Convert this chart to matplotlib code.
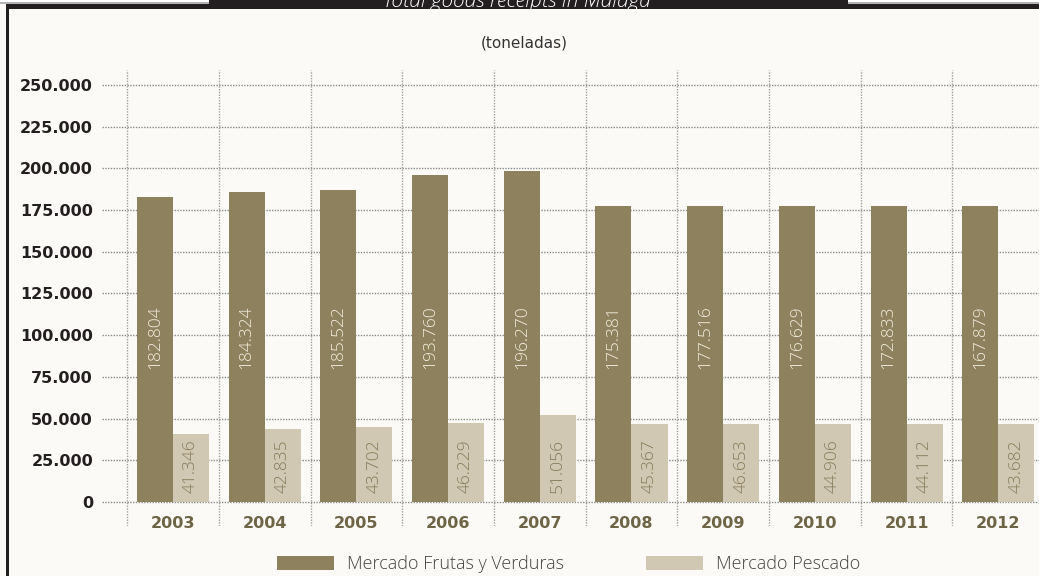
import matplotlib
matplotlib.use("Agg")
import matplotlib.pyplot as plt
from matplotlib.patches import Rectangle, Patch

# --- data ---------------------------------------------------------------------
years = ["2003", "2004", "2005", "2006", "2007", "2008", "2009", "2010", "2011", "2012"]
# printed values (tonnes)
frutas_labels = ["182.804", "184.324", "185.522", "193.760", "196.270",
                 "175.381", "177.516", "176.629", "172.833", "167.879"]
pescado_labels = ["41.346", "42.835", "43.702", "46.229", "51.056",
                  "45.367", "46.653", "44.906", "44.112", "43.682"]
# bar heights as drawn in the chart
frutas = [182850, 185850, 187050, 196040, 198440, 177460, 177460, 177460, 177460, 177460]
pescado = [40770, 43770, 44960, 47360, 52160, 46760, 46760, 46760, 46760, 46760]
yticks = [0, 25000, 50000, 75000, 100000, 125000, 150000, 175000, 200000, 225000, 250000]

# --- colours ------------------------------------------------------------------
bg = "#fbfaf6"
dark = "#8e825e"
light = "#d1c8b4"
frame = "#231f20"

fig = plt.figure(figsize=(10.39, 5.76), dpi=100, facecolor=bg)
ax = fig.add_axes([0.0982, 0.0868, 0.9018, 0.7917])
ax.set_facecolor(bg)

x = list(range(len(years)))
w = 0.393
ax.bar([i - w / 2 for i in x], frutas, width=w, color=dark, zorder=3)
ax.bar([i + w / 2 for i in x], pescado, width=w, color=light, zorder=3)

# labels inside bars
for i in x:
    ax.text(i - w / 2, 98900, frutas_labels[i], rotation=90, ha="center", va="center",
            color="#f3eedf", fontsize=12.5, family="Open Sans", fontweight="light", zorder=4)
    ax.text(i + w / 2, 5400, pescado_labels[i], rotation=90, ha="center", va="bottom",
            color="#867b58", fontsize=12.5, family="Open Sans", fontweight="light", zorder=4)

# grid
ax.set_ylim(-14400, 259000)
ax.set_xlim(-0.774, 9.444)
for t in yticks:
    ax.axhline(t, color="#8a8a8a", lw=1, ls=(0, (1, 1)), zorder=1)
for i in x:
    ax.axvline(i - 0.5, color="#a0a0a0", lw=1, ls=(0, (1, 1)), zorder=1)

ax.set_yticks(yticks)
ax.set_yticklabels([f"{t:,}".replace(",", ".") for t in yticks])
ax.set_xticks(x)
ax.set_xticklabels(years)
ax.tick_params(axis="y", length=0, pad=6.5, labelsize=11.5, labelcolor=frame)
ax.tick_params(axis="x", length=0, pad=-7.5, labelsize=11.5, labelcolor="#6e6446")
for lab in ax.get_xticklabels() + ax.get_yticklabels():
    lab.set_fontweight("bold")
for s in ax.spines.values():
    s.set_visible(False)

fig.text(0.5045, 1 - 43 / 576, "(toneladas)", ha="center", va="center",
         fontsize=11, color="#333333")

# --- frame and header ---------------------------------------------------------
fig.patches.append(Rectangle((0, 1 - 4 / 576), 209 / 1039, 4 / 576, transform=fig.transFigure,
                             facecolor="white", edgecolor="none"))
fig.patches.append(Rectangle((848 / 1039, 1 - 4 / 576), 191 / 1039, 4 / 576, transform=fig.transFigure,
                             facecolor="white", edgecolor="none"))
fig.patches.append(Rectangle((209 / 1039, 1 - 9 / 576), 639 / 1039, 9 / 576, transform=fig.transFigure,
                             facecolor=frame, edgecolor="none"))
fig.patches.append(Rectangle((6 / 1039, 1 - 9 / 576), 1, 5 / 576, transform=fig.transFigure,
                             facecolor=frame, edgecolor="none"))
fig.patches.append(Rectangle((0, 1 - 3.5 / 576), 209 / 1039, 1 / 576, transform=fig.transFigure,
                             facecolor="#b5b5b5", edgecolor="none"))
fig.patches.append(Rectangle((848 / 1039, 1 - 3.5 / 576), 191 / 1039, 1 / 576, transform=fig.transFigure,
                             facecolor="#b5b5b5", edgecolor="none"))
fig.patches.append(Rectangle((6 / 1039, 0), 2.5 / 1039, 1 - 4 / 576, transform=fig.transFigure,
                             facecolor=frame, edgecolor="none"))
# header title: only its lower part shows, as in the source page crop
fig.text(517 / 1039, 1 - 6.5 / 576, "Total goods receipts in Malaga", ha="center", va="baseline",
         fontsize=15, style="italic", color="white", family="Open Sans", fontweight="light")

# --- legend -------------------------------------------------------------------
handles = [Patch(facecolor=dark, edgecolor="none", label="Mercado Frutas y Verduras"),
           Patch(facecolor=light, edgecolor="none", label="Mercado Pescado")]
leg = fig.legend(handles=handles, loc="center", bbox_to_anchor=(569 / 1039, 1 - 564 / 576),
                 ncol=2, frameon=False, handlelength=3.15, handleheight=0.83,
                 handletextpad=0.72, columnspacing=4.55, borderpad=0,
                 prop={"family": "Open Sans", "size": 13, "weight": "light"})
for t in leg.get_texts():
    t.set_color("#444444")

fig.savefig("out.png", dpi=100, facecolor=bg)
